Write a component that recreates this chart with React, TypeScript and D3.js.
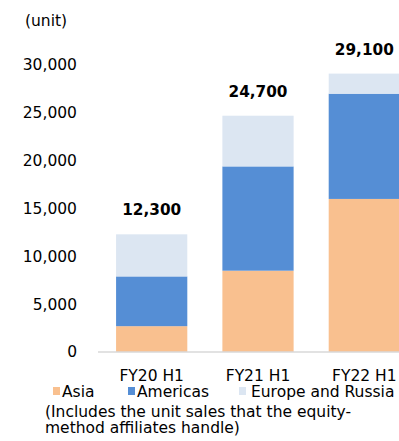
import React from "react";
import * as d3 from "d3";

const categories = ["FY20 H1", "FY21 H1", "FY22 H1"];
const asia = [2700, 8500, 16000];
const americas = [5200, 10900, 11000];
const europe = [4400, 5300, 2100];
const totals = ["12,300", "24,700", "29,100"];
const yTicks = [0, 5000, 10000, 15000, 20000, 25000, 30000];
const seriesNames = ["Asia", "Americas", "Europe and Russia"];
const colors = ["#F9C08F", "#558ED5", "#DCE6F2"];

export default function App() {
  const W = 399, H = 441;
  const y = d3.scaleLinear().domain([0, 30000]).range([352, 65]);
  const x = d3.scaleBand().domain(categories).range([98, 418]).paddingInner(0.33).paddingOuter(0.17);
  const rows = categories.map((c, i) => ({ cat: c, Asia: asia[i], Americas: americas[i], "Europe and Russia": europe[i] }));
  const stack = d3.stack<any>().keys(seriesNames)(rows);
  const font = "'DejaVu Sans', Verdana, sans-serif";
  const legendX = [53, 128, 239];
  const legendTextX = [62, 137, 251];
  return (
    <svg width={W} height={H} style={{ position: "absolute", left: 0, top: 0 }} fontFamily={font}>
      <text x={25} y={26} fontSize={15.5} fill="#000">(unit)</text>
      {yTicks.map(t => (
        <text key={t} x={77} y={y(t)} dy="0.35em" textAnchor="end" fontSize={15.5} fill="#000">
          {d3.format(",")(t)}
        </text>
      ))}
      {stack.map((s, si) => (
        <g key={si} fill={colors[si]}>
          {s.map((d, i) => (
            <rect key={i} x={x(categories[i])} y={y(d[1])} width={x.bandwidth()} height={y(d[0]) - y(d[1])} />
          ))}
        </g>
      ))}
      <line x1={98} x2={W} y1={352} y2={352} stroke="#D9D9D9" strokeWidth={1.5} />
      {categories.map((c, i) => (
        <g key={c}>
          <text x={x(c)! + x.bandwidth() / 2} y={y(asia[i] + americas[i] + europe[i]) - 19} textAnchor="middle" fontSize={15.3} fontWeight="bold" fill="#000">
            {totals[i]}
          </text>
          <text x={x(c)! + x.bandwidth() / 2} y={381} textAnchor="middle" fontSize={15.5} fill="#000">{c}</text>
        </g>
      ))}
      {seriesNames.map((n, i) => (
        <g key={n}>
          <rect x={legendX[i]} y={387} width={7} height={8} fill={colors[i]} />
          <text x={legendTextX[i]} y={397} fontSize={15.5} fill="#000">{n}</text>
        </g>
      ))}
      <text x={45} y={417} fontSize={15.5} fill="#000">(Includes the unit sales that the equity-</text>
      <text x={45} y={433} fontSize={15.5} fill="#000">method affiliates handle)</text>
    </svg>
  );
}
